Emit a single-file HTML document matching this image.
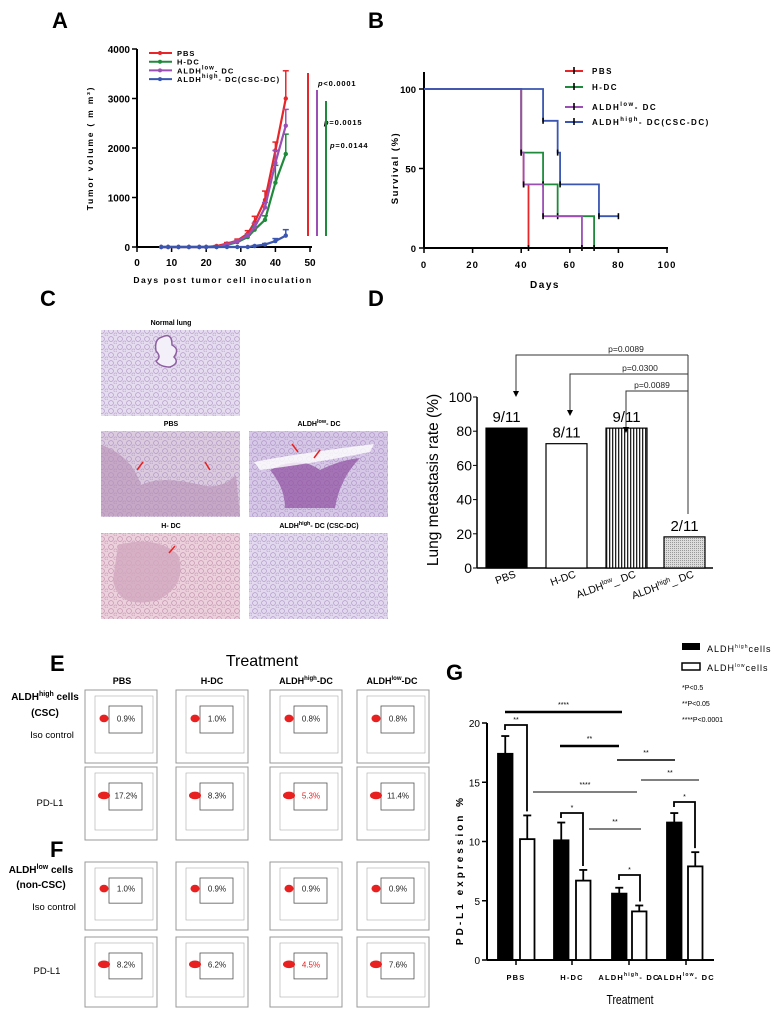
<!DOCTYPE html>
<html><head><meta charset="utf-8"><style>
body{margin:0;background:#fff}
svg{display:block;font-family:"Liberation Sans",sans-serif}
</style></head><body>
<svg id="fig" width="774" height="1017" viewBox="0 0 774 1017" xmlns="http://www.w3.org/2000/svg">
<defs>
<pattern id="vstripe" width="3" height="4" patternUnits="userSpaceOnUse"><rect width="3" height="4" fill="#fff"/><rect width="1.3" height="4" fill="#222"/></pattern>
<pattern id="dots" width="2" height="2" patternUnits="userSpaceOnUse"><rect width="2" height="2" fill="#ddd"/><rect width="1" height="1" fill="#999"/></pattern>
<pattern id="alv" width="9" height="8" patternUnits="userSpaceOnUse"><circle cx="3" cy="3" r="2.4" fill="none" stroke="#9a7fb8" stroke-width="0.7" opacity="0.7"/><circle cx="7.5" cy="6.5" r="1.6" fill="none" stroke="#9a7fb8" stroke-width="0.6" opacity="0.6"/></pattern>
<pattern id="alvp" width="9" height="8" patternUnits="userSpaceOnUse"><circle cx="3" cy="3" r="2.4" fill="none" stroke="#b07a9c" stroke-width="0.7" opacity="0.7"/><circle cx="7.5" cy="6.5" r="1.6" fill="none" stroke="#b07a9c" stroke-width="0.6" opacity="0.6"/></pattern>
</defs>
<g font-weight="bold" font-size="22">
<text x="52" y="28">A</text>
<text x="368" y="28">B</text>
<text x="40" y="306">C</text>
<text x="368" y="306">D</text>
<text x="50" y="671">E</text>
<text x="50" y="857">F</text>
<text x="446" y="680">G</text>
</g>
<g id="gA"></g>
<g id="gB"></g>
<g id="gC"></g>
<g id="gD"></g>
<g id="gE"></g>
<g id="gG"></g>
</svg>
<script>
// ---- Panel A data ----
const aDays=[7,9,12,15,18,20,23,26,29,32,34,37,40,43];
const aPBS=[0,0,0,0,0,0,20,70,130,270,500,950,1950,3000];
const aPBSerr=[0,0,0,0,0,0,10,20,30,60,120,180,170,560];
const aHDC=[0,0,0,0,0,0,0,40,100,200,350,550,1300,1880];
const aHDCerr=[0,0,0,0,0,0,0,10,20,40,60,80,350,400];
const aLow=[0,0,0,0,0,0,0,50,120,230,400,800,1700,2450];
const aLowErr=[0,0,0,0,0,0,0,10,20,40,80,100,250,330];
const aHigh=[0,0,0,0,0,0,0,0,0,0,20,50,120,230];
const aHighErr=[0,0,0,0,0,0,0,0,0,0,10,20,50,120];
const aYTicks=[0,1000,2000,3000,4000];
const aXTicks=[0,10,20,30,40,50];
// ---- Panel B data ----
const bPBS=[[0,100],[40,100],[40,60],[41,60],[41,40],[43,40],[43,0]];
const bHDC=[[0,100],[40,100],[40,60],[49,60],[49,40],[55,40],[55,20],[70,20],[70,0]];
const bLow=[[0,100],[40,100],[40,60],[41,60],[41,40],[49,40],[49,20],[65,20],[65,0]];
const bHigh=[[0,100],[49,100],[49,80],[55,80],[55,60],[56,60],[56,40],[72,40],[72,20],[80,20]];
const bXTicks=[0,20,40,60,80,100];
const bYTicks=[0,50,100];
// ---- Panel D data ----
const dCats=["PBS","H-DC","ALDHlow_DC","ALDHhigh_DC"];
const dVals=[81.8,72.7,81.8,18.2];
const dLabels=["9/11","8/11","9/11","2/11"];
const dYTicks=[0,20,40,60,80,100];
// ---- Panel G data ----
const gCats=["PBS","H-DC","ALDHhigh-DC","ALDHlow-DC"];
const gHigh=[17.4,10.1,5.6,11.6];
const gHighErr=[1.5,1.5,0.5,0.8];
const gLow=[10.2,6.7,4.1,7.9];
const gLowErr=[2.0,0.9,0.5,1.2];
const gYTicks=[0,5,10,15,20];
// ---- Panel E/F data ----
const eRow1=["0.9%","1.0%","0.8%","0.8%"];
const eRow2=["17.2%","8.3%","5.3%","11.4%"];
const fRow1=["1.0%","0.9%","0.9%","0.9%"];
const fRow2=["8.2%","6.2%","4.5%","7.6%"];

const NS="http://www.w3.org/2000/svg";
function mk(parent,tag,attrs,txt){const e=document.createElementNS(NS,tag);for(const k in attrs)e.setAttribute(k,attrs[k]);if(txt!==undefined)e.textContent=txt;parent.appendChild(e);return e;}

// ===== Panel A =====
(function(){
const g=document.getElementById('gA');
const X=d=>137+3.46*d, Y=v=>247-v*0.0495;
let e=mk(g,'line',{x1:137,y1:49,x2:137,y2:247,stroke:'#000','stroke-width':2});


e=mk(g,'line',{x1:137,y1:247,x2:312,y2:247,stroke:'#000','stroke-width':2});


aYTicks.forEach(t=>{mk(g,'line',{x1:132,x2:137,y1:Y(t),y2:Y(t),stroke:'#000','stroke-width':1.5});
e=mk(g,'text',{x:130,y:Y(t)+4,'text-anchor':'end','font-size':10,'font-weight':'bold'},t);

});
aXTicks.forEach(t=>{mk(g,'line',{x1:X(t),x2:X(t),y1:247,y2:252,stroke:'#000','stroke-width':1.5});
e=mk(g,'text',{x:X(t),y:266,'text-anchor':'middle','font-size':10,'font-weight':'bold'},t);

});
e=mk(g,'text',{x:223,y:283,'text-anchor':'middle','font-size':8.5,'font-weight':'bold','letter-spacing':'1.5'},'Days post tumor cell inoculation');


e=mk(g,'text',{x:0,y:0,transform:'translate(93,148) rotate(-90)','text-anchor':'middle','font-size':8.5,'font-weight':'bold','letter-spacing':'1.8'},'Tumor volume ( m m³)');


const series=[[aPBS,aPBSerr,'#e8262a','pbs'],[aHDC,aHDCerr,'#1f8a3c','h-dc'],[aLow,aLowErr,'#9b4fb5','aldh-low-dc'],[aHigh,aHighErr,'#3a56b0','aldh-high-dc']];
series.forEach(([v,er,c,n])=>{
 v.forEach((y,i)=>{if(er[i]>0){mk(g,'line',{x1:X(aDays[i]),x2:X(aDays[i]),y1:Y(y),y2:Y(y+er[i]),stroke:c,'stroke-width':1.5});mk(g,'line',{x1:X(aDays[i])-3,x2:X(aDays[i])+3,y1:Y(y+er[i]),y2:Y(y+er[i]),stroke:c,'stroke-width':1.5});}});
 e=mk(g,'polyline',{points:v.map((y,i)=>X(aDays[i])+','+Y(y)).join(' '),fill:'none',stroke:c,'stroke-width':2.2});
 
 
 v.forEach((y,i)=>{e=mk(g,'circle',{cx:X(aDays[i]),cy:Y(y),r:2.2,fill:c});
 
 });
});
const leg=[['PBS','#e8262a'],['H-DC','#1f8a3c'],['ALDH<tspan font-size="6" dy="-4">low</tspan><tspan dy="4">- DC</tspan>','#9b4fb5'],['ALDH<tspan font-size="6" dy="-4">high</tspan><tspan dy="4">- DC(CSC-DC)</tspan>','#3a56b0']];
leg.forEach(([t,c],i)=>{const y=53+i*8.7;mk(g,'line',{x1:149,x2:172,y1:y,y2:y,stroke:c,'stroke-width':2});mk(g,'circle',{cx:160,cy:y,r:2,fill:c});
 e=mk(g,'text',{x:177,y:y+3,'font-size':7.5,'font-weight':'bold','letter-spacing':'1'});e.innerHTML=t;
 
 });
[[308,73,'#e8262a','p<0.0001',318,86],[317,90,'#9b4fb5','p=0.0015',324,125],[326,101,'#1f8a3c','p=0.0144',330,148]].forEach(([x,y,c,t,tx,ty])=>{
 mk(g,'line',{x1:x,x2:x,y1:y,y2:236,stroke:c,'stroke-width':2});
 e=mk(g,'text',{x:tx,y:ty,'font-size':7.5,'font-weight':'bold','letter-spacing':'0.8'});e.innerHTML='<tspan font-style="italic">p</tspan>'+t.slice(1);
 
 });
})();

// ===== Panel B =====
(function(){
const g=document.getElementById('gB');
const X=d=>424+2.43*d, Y=v=>248-v*1.59;
let e=mk(g,'line',{x1:424,y1:72,x2:424,y2:248,stroke:'#000','stroke-width':2});


e=mk(g,'line',{x1:424,y1:248,x2:668,y2:248,stroke:'#000','stroke-width':2});


bYTicks.forEach(t=>{mk(g,'line',{x1:419,x2:424,y1:Y(t),y2:Y(t),stroke:'#000','stroke-width':1.5});
e=mk(g,'text',{x:416,y:Y(t)+4,'text-anchor':'end','font-size':9.5,'font-weight':'bold'},t);

});
bXTicks.forEach(t=>{mk(g,'line',{x1:X(t),x2:X(t),y1:248,y2:253,stroke:'#000','stroke-width':1.5});
e=mk(g,'text',{x:X(t),y:268,'text-anchor':'middle','font-size':9.5,'font-weight':'bold','letter-spacing':'1'},t);

});
e=mk(g,'text',{x:545,y:288,'text-anchor':'middle','font-size':10,'font-weight':'bold','letter-spacing':'1.5'},'Days');


e=mk(g,'text',{x:0,y:0,transform:'translate(398,168) rotate(-90)','text-anchor':'middle','font-size':9.5,'font-weight':'bold','letter-spacing':'1.5'},'Survival (%)');


[[bPBS,'#e8262a','pbs'],[bHDC,'#1f8a3c','h-dc'],[bLow,'#9b4fb5','aldh-low-dc'],[bHigh,'#3a56b0','aldh-high-dc']].forEach(([pts,c,n])=>{
 e=mk(g,'polyline',{points:pts.map(p=>X(p[0])+','+Y(p[1])).join(' '),fill:'none',stroke:c,'stroke-width':1.8});
 
 
 for(let i=1;i<pts.length;i++){if(pts[i][0]===pts[i-1][0]||i===pts.length-1){const p=pts[i];mk(g,'line',{x1:X(p[0]),x2:X(p[0]),y1:Y(p[1])-3,y2:Y(p[1])+3,stroke:'#000','stroke-width':1.6});}}
});
const leg=[['PBS','#e8262a'],['H-DC','#1f8a3c'],['ALDH<tspan font-size="6" dy="-4">low</tspan><tspan dy="4">- DC</tspan>','#9b4fb5'],['ALDH<tspan font-size="6" dy="-4">high</tspan><tspan dy="4">- DC(CSC-DC)</tspan>','#3a56b0']];
leg.forEach(([t,c],i)=>{const y=[71,87,107,122][i];mk(g,'line',{x1:565,x2:583,y1:y,y2:y,stroke:c,'stroke-width':2});mk(g,'line',{x1:574,x2:574,y1:y-4,y2:y+3,stroke:'#000','stroke-width':1.6});
 e=mk(g,'text',{x:592,y:y+3,'font-size':8,'font-weight':'bold','letter-spacing':'1.5'});e.innerHTML=t;
 
 });
})();

// ===== Panel C =====
(function(){
const g=document.getElementById('gC');
const imgs=[[101,330,'Normal lung','#e6dcef','normal-lung','alv'],[101,431,'PBS','#dccbdf','pbs','alv'],[249,431,'ALDH<tspan font-size="5.5" dy="-3">low</tspan><tspan dy="3">- DC</tspan>','#d6c8e6','aldh-low-dc','alv'],[101,533,'H- DC','#ecd0dc','h-dc','alvp'],[249,533,'ALDH<tspan font-size="5.5" dy="-3">high</tspan><tspan dy="3">- DC (CSC-DC)</tspan>','#e2d9ef','aldh-high-dc','alv']];
imgs.forEach(([x,y,t,c,n,p])=>{
 let e=mk(g,'rect',{x:x,y:y,width:139,height:86,fill:c});
 
 
 mk(g,'rect',{x:x,y:y,width:139,height:86,fill:'url(#'+p+')'});
 e=mk(g,'text',{x:x+70,y:y-5,'text-anchor':'middle','font-size':7,'font-weight':'bold'});e.innerHTML=t;
 
 
});
mk(g,'path',{d:'M162,337 q10,-5 10,8 q8,4 2,12 q6,6 -4,10 q-10,0 -14,-6 q6,-4 0,-10 q-2,-12 6,-14z',fill:'#f4f0fa',stroke:'#8d5fa0','stroke-width':1.5});
mk(g,'path',{d:'M101,445 q30,10 40,40 q20,-10 60,0 q20,5 35,-10 l4,41 h-139z',fill:'#b78fb5',opacity:0.6});
mk(g,'path',{d:'M270,470 q30,-15 50,0 q20,-10 40,-12 q-20,20 -25,50 l-50,0 q0,-20 -15,-38z',fill:'#8e4fa0',opacity:0.7});
mk(g,'path',{d:'M254,462 q40,-8 120,-18 l-4,8 q-60,12 -110,18z',fill:'#fff',opacity:0.8});
mk(g,'path',{d:'M118,545 q40,-10 60,10 q10,30 -20,45 q-40,10 -45,-20z',fill:'#d2a8bf',opacity:0.8});
[[143,462,137,470],[205,462,210,470],[292,444,298,452],[320,450,314,458],[175,546,169,553]].forEach(([x1,y1,x2,y2])=>mk(g,'line',{x1:x1,y1:y1,x2:x2,y2:y2,stroke:'#e82020','stroke-width':1.5}));
})();

// ===== Panel D =====
(function(){
const g=document.getElementById('gD');
const Y=v=>568-v*1.71;
const bx=[486,546,606,664], bw=41;
let e=mk(g,'line',{x1:477,y1:397,x2:477,y2:568,stroke:'#000','stroke-width':1.5});


e=mk(g,'line',{x1:477,y1:568,x2:713,y2:568,stroke:'#000','stroke-width':1.5});


dYTicks.forEach(t=>{mk(g,'line',{x1:473,x2:477,y1:Y(t),y2:Y(t),stroke:'#000','stroke-width':1});
e=mk(g,'text',{x:472,y:Y(t)+5,'text-anchor':'end','font-size':14},t);

});
e=mk(g,'text',{x:0,y:0,transform:'translate(438,480) rotate(-90)','text-anchor':'middle','font-size':15.5},'Lung metastasis rate (%)');


const fills=['#000','#fff','url(#vstripe)','url(#dots)'];
dVals.forEach((v,i)=>{
 e=mk(g,'rect',{x:bx[i],y:Y(v),width:bw,height:568-Y(v),fill:fills[i],stroke:'#000','stroke-width':1.2});
 
 
 e=mk(g,'text',{x:bx[i]+bw/2,y:Y(v)-6,'text-anchor':'middle','font-size':15},dLabels[i]);
 
 
});
const catHtml=['PBS','H-DC','ALDH<tspan font-size="7" dy="-4">low</tspan><tspan dy="4">_ DC</tspan>','ALDH<tspan font-size="7" dy="-4">high</tspan><tspan dy="4">_ DC</tspan>'];
catHtml.forEach((t,i)=>{e=mk(g,'text',{x:0,y:0,transform:`translate(${bx[i]+bw/2+10},577) rotate(-20)`,'text-anchor':'end','font-size':10.5});e.innerHTML=t;
 
 });
const br=[[516,355,'p=0.0089',626],[570,374,'p=0.0300',640],[626,391,'p=0.0089',652]];
mk(g,'line',{x1:688,x2:688,y1:355,y2:514,stroke:'#333','stroke-width':1});
br.forEach(([x,y,t,tx])=>{mk(g,'polyline',{points:`688,${y} ${x},${y} ${x},${y+38}`,fill:'none',stroke:'#333','stroke-width':1});
 mk(g,'path',{d:`M${x-3},${y+36} L${x+3},${y+36} L${x},${y+42}z`,fill:'#000'});
 e=mk(g,'text',{x:tx,y:y-3,'text-anchor':'middle','font-size':8.5,fill:'#222'},t);
 
 });
})();

// ===== Panels E/F =====
(function(){
const g=document.getElementById('gE');
let e=mk(g,'text',{x:262,y:666,'text-anchor':'middle','font-size':16},'Treatment');


const heads=['PBS','H-DC','ALDH<tspan font-size="6" dy="-4">high</tspan><tspan dy="4">-DC</tspan>','ALDH<tspan font-size="6" dy="-4">low</tspan><tspan dy="4">-DC</tspan>'];
const hx=[122,212,306,392];
heads.forEach((t,i)=>{e=mk(g,'text',{x:hx[i],y:684,'text-anchor':'middle','font-size':9,'font-weight':'bold'});e.innerHTML=t;
 
 });
const labels=[[45,700,'ALDH<tspan font-size="7" dy="-4">high</tspan><tspan dy="4"> cells</tspan>',10,'bold'],[45,716,'(CSC)',10,'bold'],[52,738,'Iso control',9.5,'normal'],[50,806,'PD-L1',9.5,'normal'],[41,873,'ALDH<tspan font-size="7" dy="-4">low</tspan><tspan dy="4"> cells</tspan>',10,'bold'],[41,888,'(non-CSC)',10,'bold'],[54,910,'Iso control',9.5,'normal'],[47,974,'PD-L1',9.5,'normal']];
labels.forEach(([x,y,t,fs,fw])=>{e=mk(g,'text',{x:x,y:y,'text-anchor':'middle','font-size':fs,'font-weight':fw});e.innerHTML=t;
 
 });
const rows=[[690,73,eRow1],[767,73,eRow2],[862,68,fRow1],[937,70,fRow2]];
const cx=[85,176,270,357];
rows.forEach(([y,h,vals],r)=>{
 vals.forEach((v,i)=>{
  const x=cx[i];
  e=mk(g,'rect',{x:x,y:y,width:72,height:h,fill:'#fff',stroke:'#999','stroke-width':1});
  
  
  mk(g,'rect',{x:x+10,y:y+6,width:58,height:h-16,fill:'none',stroke:'#aaa','stroke-width':0.6});
  mk(g,'rect',{x:x+24,y:y+16,width:33,height:h*0.37,fill:'none',stroke:'#555','stroke-width':0.8});
  mk(g,'ellipse',{cx:x+19,cy:y+h*0.39,rx:r%2?6:4.5,ry:3.8,fill:'#e82020'});
  e=mk(g,'text',{x:x+41,y:y+h*0.39+3,'text-anchor':'middle','font-size':8,fill:i===2&&r%2?'#e82020':'#222'},v);
  
  
 });
});
})();

// ===== Panel G =====
(function(){
const g=document.getElementById('gG');
const Y=v=>960-v*11.85;
const hx=[498,554,612,667], lx=[520,576,632,688], bw=14.5;
let e=mk(g,'line',{x1:487,y1:723,x2:487,y2:960,stroke:'#000','stroke-width':2});


e=mk(g,'line',{x1:487,y1:960,x2:714,y2:960,stroke:'#000','stroke-width':2});


gYTicks.forEach(t=>{mk(g,'line',{x1:482,x2:487,y1:Y(t),y2:Y(t),stroke:'#000','stroke-width':1.5});
e=mk(g,'text',{x:480,y:Y(t)+4,'text-anchor':'end','font-size':10},t);

});
e=mk(g,'text',{x:0,y:0,transform:'translate(463,870) rotate(-90)','text-anchor':'middle','font-size':10,'font-weight':'bold','letter-spacing':'3'},'PD-L1 expression %');


e=mk(g,'text',{x:630,y:1004,'text-anchor':'middle','font-size':13,transform:'translate(630,1004) scale(0.8,1) translate(-630,-1004)'},'Treatment');


const catHtml=['PBS','H-DC','ALDH<tspan font-size="5" dy="-4">high</tspan><tspan dy="4">- DC</tspan>','ALDH<tspan font-size="5" dy="-4">low</tspan><tspan dy="4">- DC</tspan>'];
const cxs=[516,572,629,686];
catHtml.forEach((t,i)=>{mk(g,'line',{x1:cxs[i],x2:cxs[i],y1:960,y2:965,stroke:'#000','stroke-width':1.5});
 e=mk(g,'text',{x:cxs[i],y:980,'text-anchor':'middle','font-size':7.5,'font-weight':'bold','letter-spacing':'1.2'});e.innerHTML=t;
 
 });
function bar(x,v,er,fill,n){
 mk(g,'line',{x1:x+bw/2,x2:x+bw/2,y1:Y(v),y2:Y(v+er),stroke:'#000','stroke-width':1.8});
 mk(g,'line',{x1:x+bw/2-4,x2:x+bw/2+4,y1:Y(v+er),y2:Y(v+er),stroke:'#000','stroke-width':1.8});
 const r=mk(g,'rect',{x:x,y:Y(v),width:bw,height:960-Y(v),fill:fill,stroke:'#000','stroke-width':1.8});
 
 
}
gHigh.forEach((v,i)=>bar(hx[i],v,gHighErr[i],'#000','g-bar-aldh-high'));
gLow.forEach((v,i)=>bar(lx[i],v,gLowErr[i],'#fff','g-bar-aldh-low'));
const sig=[[505,622,712,'****',2.5],[560,619,746,'**',2.5],[617,675,760,'**',1.5],[641,699,780,'**',1],[533,637,792,'****',1],[589,641,829,'**',1]];
sig.forEach(([x1,x2,y,t,w])=>{mk(g,'line',{x1:x1,x2:x2,y1:y,y2:y,stroke:'#000','stroke-width':w});
 e=mk(g,'text',{x:(x1+x2)/2,y:y-5,'text-anchor':'middle','font-size':7},t);
 
 });
const brk=[[505,527,725,'**',0],[561,583,813,'*',1],[619,640,875,'*',2],[674,695,802,'*',3]];
brk.forEach(([x1,x2,y,t,i])=>{mk(g,'polyline',{points:`${x1},${y+5} ${x1},${y} ${x2},${y} ${x2},${Y(gLow[i]+gLowErr[i])-4}`,fill:'none',stroke:'#000','stroke-width':1.8});
 e=mk(g,'text',{x:(x1+x2)/2,y:y-3,'text-anchor':'middle','font-size':7},t);
 
 });
e=mk(g,'rect',{x:682,y:643,width:18,height:7,fill:'#000'});


e=mk(g,'rect',{x:682,y:663,width:18,height:7,fill:'#fff',stroke:'#000','stroke-width':1.5});


e=mk(g,'text',{x:707,y:652,'font-size':9,'letter-spacing':'1'});e.innerHTML='ALDH<tspan font-size="5" dy="-4">high</tspan><tspan dy="4">cells</tspan>';


e=mk(g,'text',{x:707,y:671,'font-size':9,'letter-spacing':'1'});e.innerHTML='ALDH<tspan font-size="5" dy="-4">low</tspan><tspan dy="4">cells</tspan>';


[['*P<0.5',690],['**P<0.05',706],['****P<0.0001',722]].forEach(([t,y])=>{e=mk(g,'text',{x:682,y:y,'font-size':7},t);
 
 });
})();
</script>
</body></html>
